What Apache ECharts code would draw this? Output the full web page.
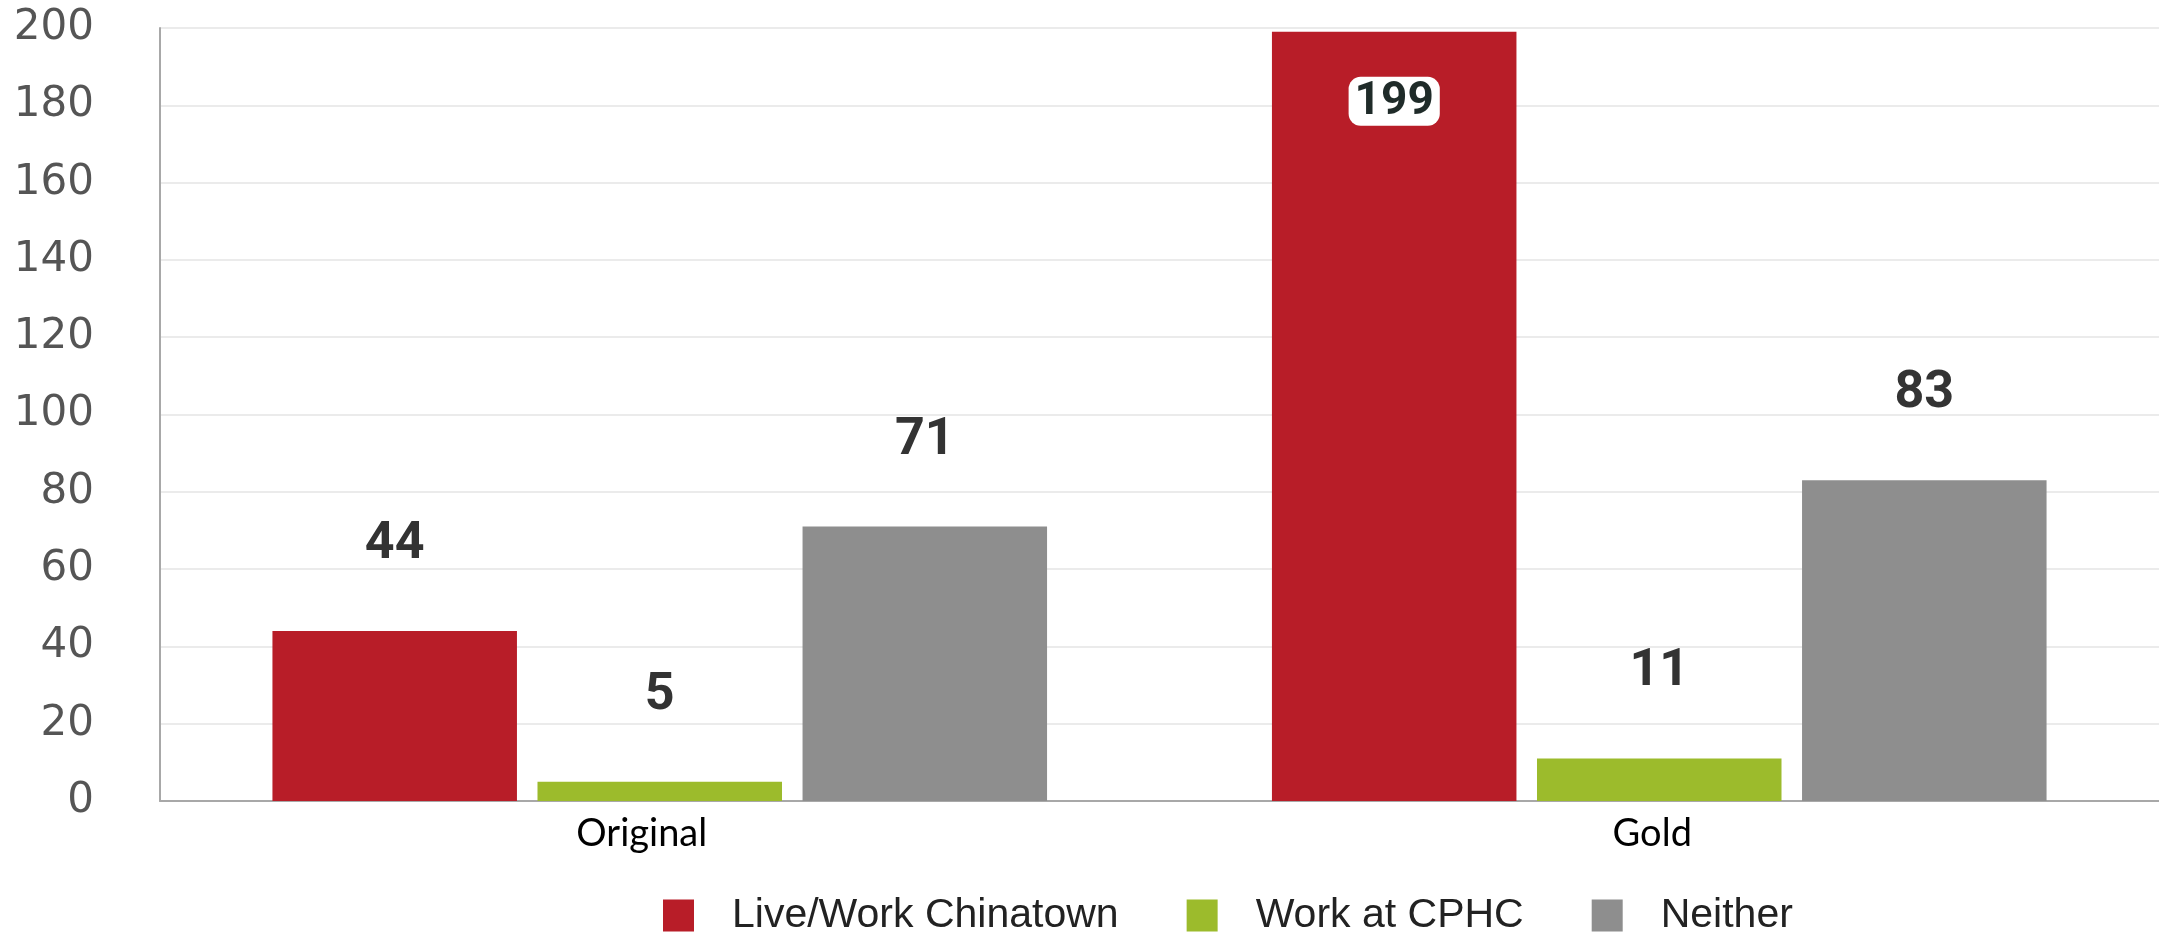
<!DOCTYPE html>
<html>
<head>
<meta charset="utf-8">
<script src="https://cdn.jsdelivr.net/npm/echarts@6/dist/echarts.min.js"></script>
<style>
  html, body { margin: 0; padding: 0; background: #ffffff; }
  #chart { width: 2159px; height: 937px; }
</style>
</head>
<body>
<div id="chart"></div>
<script>
const categories = ['Original', 'Gold'];
const seriesNames = ['Live/Work Chinatown', 'Work at CPHC', 'Neither'];
const liveWorkChinatown = [44, 199];
const workAtCPHC = [5, 11];
const neither = [71, 83];
const yTicks = { min: 0, max: 200, interval: 20 };

const colors = ['#B81D28', '#9CBB2C', '#8E8E8E'];

const chart = echarts.init(document.getElementById('chart'));

const topLabel = {
  show: true,
  position: 'top',
  distance: 60,
  fontFamily: 'Roboto',
  fontWeight: 'bold',
  fontSize: 52,
  color: '#333333'
};

function makeSeries(name, values, idx) {
  return {
    name: name,
    type: 'bar',
    barGap: '8.4%',
    barCategoryGap: '22.5%',
    itemStyle: { color: colors[idx] },
    label: topLabel,
    data: values.map(function (v) {
      if (v > 150) {
        return {
          value: v,
          label: {
            show: true,
            position: 'insideTop',
            distance: 45,
            fontFamily: 'Roboto',
            fontWeight: 'bold',
            fontSize: 46,
            color: '#1f2b29',
            backgroundColor: '#ffffff',
            borderRadius: 12,
            padding: [3, 6, 0, 6]
          }
        };
      }
      return v;
    })
  };
}

chart.setOption({
  animation: false,
  backgroundColor: '#ffffff',
  grid: { left: 160, right: -3, top: 28, bottom: 136, containLabel: false },
  legend: {
    left: 658,
    top: 890,
    itemWidth: 31,
    itemHeight: 32,
    itemGap: 68,
    icon: 'rect',
    textStyle: {
      fontFamily: 'Liberation Sans',
      fontSize: 41,
      color: '#222222',
      padding: [0, 0, 0, 33]
    },
    data: seriesNames
  },
  xAxis: {
    type: 'category',
    data: [
      { value: categories[0], textStyle: { padding: [0, 36, 0, 0] } },
      { value: categories[1], textStyle: { padding: [0, 14, 0, 0] } }
    ],
    axisLine: { show: true, lineStyle: { color: '#a8a8a8', width: 2 } },
    axisTick: { show: false },
    axisLabel: {
      margin: 14,
      fontFamily: 'Lato',
      fontSize: 38,
      color: '#000000'
    }
  },
  yAxis: {
    type: 'value',
    min: yTicks.min,
    max: yTicks.max,
    interval: yTicks.interval,
    axisLine: { show: true, lineStyle: { color: '#a8a8a8', width: 2 } },
    axisTick: { show: false },
    axisLabel: {
      margin: 66,
      fontFamily: 'DejaVu Sans',
      fontSize: 42,
      color: '#555555'
    },
    splitLine: { show: true, lineStyle: { color: '#ebebeb', width: 2 } }
  },
  series: [
    makeSeries(seriesNames[0], liveWorkChinatown, 0),
    makeSeries(seriesNames[1], workAtCPHC, 1),
    makeSeries(seriesNames[2], neither, 2)
  ]
});
</script>
</body>
</html>
